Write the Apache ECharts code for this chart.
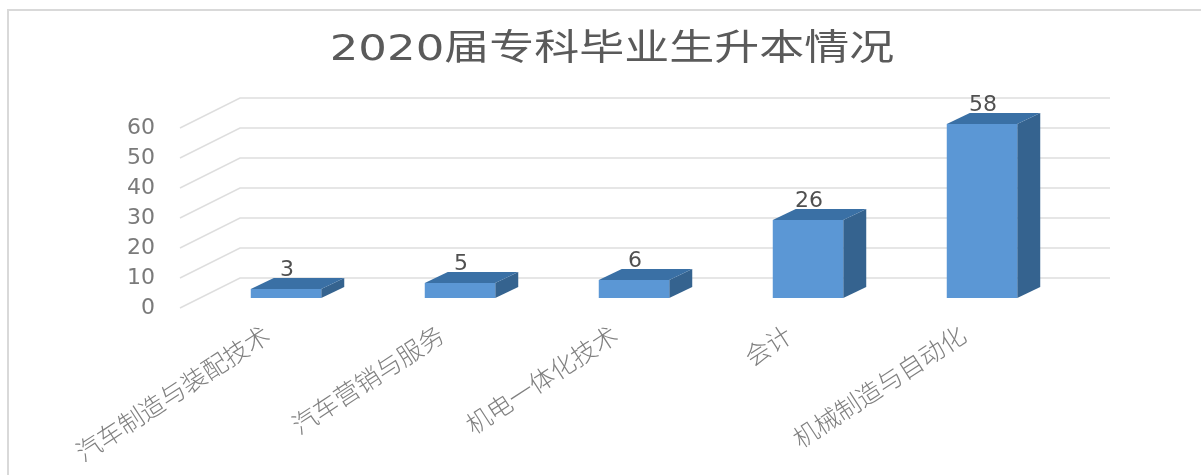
<!DOCTYPE html>
<html>
<head>
<meta charset="utf-8">
<style>html,body{margin:0;padding:0;background:#fff}#c{width:1201px;height:475px}</style>
<script src="https://cdn.jsdelivr.net/npm/echarts@6/dist/echarts.min.js"></script>
</head>
<body>
<div id="c"></div>
<script>
const titleText = '2020届专科毕业生升本情况';
const categories = ['汽车制造与装配技术', '汽车营销与服务', '机电一体化技术', '会计', '机械制造与自动化'];
const values = [3, 5, 6, 26, 58];
const yTicks = [0, 10, 20, 30, 40, 50, 60];

const FONT = '"DejaVu Sans","Noto Sans CJK SC",sans-serif';
const wallDX = 60, wallDY = -30, wallRight = 60;
const barDX = 19, barDY = -10, barSideX = 23, barSideY = -11;

const chart = echarts.init(document.getElementById('c'), null, {renderer: 'canvas'});
chart.setOption({
  animation: false,
  backgroundColor: '#ffffff',
  grid: {left: 180, right: 151, top: 128, bottom: 167, containLabel: false},
  xAxis: {
    type: 'category', data: categories,
    axisLine: {show: false}, axisTick: {show: false}, splitLine: {show: false},
    axisLabel: {interval: 0, rotate: 33, margin: 24, fontSize: 25, color: '#808080',
      fontFamily: '"Noto Sans CJK SC",sans-serif', fontWeight: 300}
  },
  yAxis: {
    type: 'value', min: 0, max: 60, interval: 10,
    axisLine: {show: false}, axisTick: {show: false}, splitLine: {show: false},
    axisLabel: {margin: 25, fontSize: 22, color: '#7a7a7a', fontFamily: FONT, padding: [5, 0, 0, 0]}
  },
  graphic: [
    {type: 'rect', z: -10, shape: {x: 8, y: 10, width: 1300, height: 600},
      style: {fill: '#fff', stroke: '#d9d9d9', lineWidth: 2}},
    {type: 'text', x: 612, y: 51, scaleX: 1.25, originX: 0, originY: 0, z: 10,
      style: {text: titleText, fill: '#5a5a5a', font: '36px ' + FONT, align: 'center', verticalAlign: 'middle'}}
  ],
  series: [
    {
      type: 'custom', z: 1, silent: true,
      data: yTicks.map(v => [v]),
      encode: {y: 0},
      renderItem(params, api) {
        const cs = params.coordSys;
        const y = api.coord([0, api.value(0)])[1];
        return {type: 'polyline', shape: {points: [
          [cs.x, y], [cs.x + wallDX, y + wallDY], [cs.x + cs.width + wallRight, y + wallDY]
        ]}, style: {stroke: '#dedede', lineWidth: 1.5, fill: null}};
      }
    },
    {
      type: 'custom', z: 2, silent: true,
      data: values.map((v, i) => [i, v]),
      encode: {x: 0, y: 1},
      renderItem(params, api) {
        const c = api.value(0), v = api.value(1);
        const top = api.coord([c, v]), base = api.coord([c, 0]);
        const w = api.size([1, 0])[0] * 0.405;
        const x0 = top[0] + barDX - w / 2, x1 = x0 + w;
        const yt = top[1] + barDY, yb = base[1] + barDY;
        return {type: 'group', children: [
          {type: 'polygon', shape: {points: [[x1, yt], [x1 + barSideX, yt + barSideY], [x1 + barSideX, yb + barSideY], [x1, yb]]},
            style: {fill: '#35638f'}},
          {type: 'polygon', shape: {points: [[x0, yt], [x0 + barSideX, yt + barSideY], [x1 + barSideX, yt + barSideY], [x1, yt]]},
            style: {fill: '#3a70a5'}},
          {type: 'rect', shape: {x: x0, y: yt, width: w, height: yb - yt},
            style: {fill: '#5b97d5'}},
          {type: 'text', x: x0 + w / 2 + 1, y: yt + barSideY - 8,
            style: {text: String(v), fill: '#505050', font: '22px ' + FONT, align: 'center', verticalAlign: 'middle'}}
        ]};
      }
    }
  ]
});
</script>
</body>
</html>
